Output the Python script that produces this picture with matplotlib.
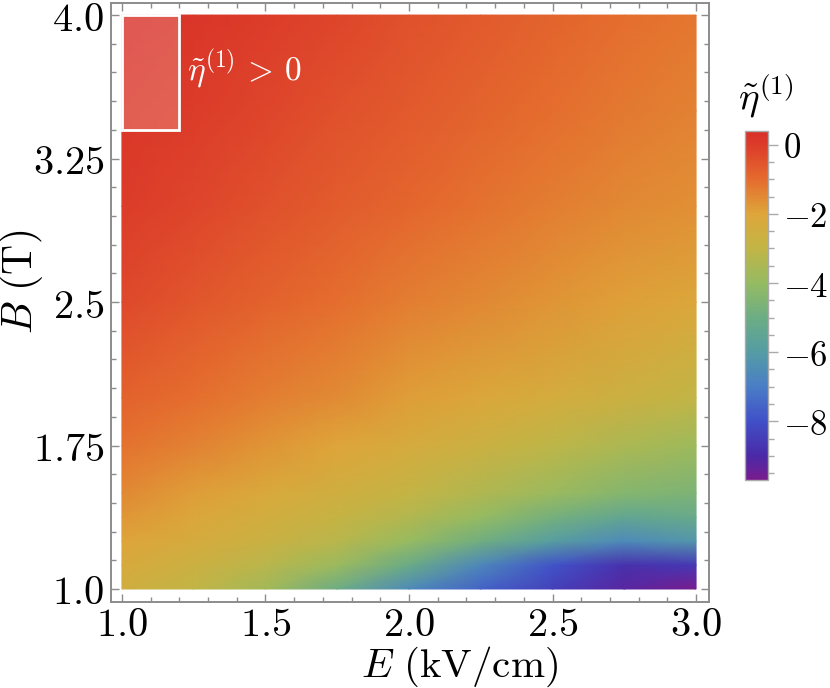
import numpy as np
import matplotlib
matplotlib.use("Agg")
import matplotlib.pyplot as plt
from matplotlib.colors import LinearSegmentedColormap
from matplotlib.ticker import FixedLocator, MultipleLocator
from matplotlib.patches import Rectangle

plt.rcParams['mathtext.fontset'] = 'cm'

# ---- data ----
E_vals = [1.0, 1.25, 1.5, 1.75, 2.0, 2.25, 2.5, 2.75, 3.0]
B_vals = [1.0, 1.125, 1.25, 1.375, 1.5, 1.75, 2.0, 2.5, 3.0, 3.5, 4.0]
eta_B100 = [-2.5, -3.0, -3.7, -5.0, -6.6, -7.6, -8.4, -9.2, -9.7]
eta_B112 = [-2.25, -2.65, -3.2, -3.9, -5.1, -6.7, -7.9, -8.8, -8.6]
eta_B125 = [-2.0, -2.35, -2.75, -3.2, -3.95, -4.9, -5.9, -6.6, -6.2]
eta_B137 = [-1.75, -2.1, -2.45, -2.85, -3.35, -4.0, -4.8, -5.4, -5.2]
eta_B150 = [-1.5, -1.85, -2.2, -2.55, -2.95, -3.4, -3.9, -4.4, -4.6]
eta_B175 = [-1.1, -1.4, -1.7, -2.0, -2.35, -2.7, -3.1, -3.5, -3.8]
eta_B200 = [-0.8, -1.05, -1.3, -1.55, -1.85, -2.1, -2.4, -2.7, -3.0]
eta_B250 = [-0.3, -0.55, -0.8, -1.05, -1.3, -1.5, -1.7, -1.9, -2.1]
eta_B300 = [0.0, -0.2, -0.45, -0.7, -0.9, -1.1, -1.3, -1.5, -1.65]
eta_B350 = [0.2, 0.0, -0.2, -0.45, -0.65, -0.85, -1.05, -1.25, -1.4]
eta_B400 = [0.4, 0.2, 0.0, -0.2, -0.45, -0.65, -0.85, -1.05, -1.2]
eta_min, eta_max = -9.7, 0.4

x_ticks = [1.0, 1.5, 2.0, 2.5, 3.0]
y_ticks = [1.0, 1.75, 2.5, 3.25, 4.0]
y_ticklabels = ['1.0', '1.75', '2.5', '3.25', '4.0']
cb_ticks = [-8, -6, -4, -2, 0]

# positive region box
box_E = (1.0, 1.2)
box_B = (3.4, 4.0)

# ---- colormap (Mathematica-like Rainbow) ----
stops_val = [-9.7, -9.0, -8.0, -7.0, -6.0, -5.0, -4.0, -3.0, -2.0, -1.0, 0.0, 0.4]
stops_col = ['#781c8e', '#4a2aa8', '#4050c8', '#4a7ec6', '#559ca4', '#6cad84',
             '#95bb62', '#c2b546', '#dea63a', '#e56c2e', '#dc3c2a', '#d93029']
pos = [(v - eta_min) / (eta_max - eta_min) for v in stops_val]
cmap = LinearSegmentedColormap.from_list('rainbow_m', list(zip(pos, stops_col)))

Z = np.array([eta_B100, eta_B112, eta_B125, eta_B137, eta_B150, eta_B175,
              eta_B200, eta_B250, eta_B300, eta_B350, eta_B400])
EE, BB = np.meshgrid(E_vals, B_vals)

fig = plt.figure(figsize=(8.3, 6.88), dpi=100)
ax = fig.add_axes([111/830, 1-602/688, 598/830, 599/688])
m = ax.pcolormesh(EE, BB, Z, shading='gouraud', cmap=cmap,
                  vmin=eta_min, vmax=eta_max, rasterized=True)
ax.set_xlim(0.962, 3.045)
ax.set_ylim(0.932, 4.063)

ax.add_patch(Rectangle((box_E[0], box_B[0]), box_E[1]-box_E[0], box_B[1]-box_B[0],
                       facecolor=(1, 1, 1, 0.2), edgecolor='white', lw=2, zorder=3))
ax.text(1.225, 3.72, r'$\tilde{\eta}^{(1)}\,>\,0$', color='white', fontsize=24,
        va='center', ha='left', zorder=4)

gray = '#8c8c8c'
for s in ax.spines.values():
    s.set_color(gray)
    s.set_linewidth(1.4)
ax.xaxis.set_major_locator(FixedLocator(x_ticks))
ax.xaxis.set_minor_locator(MultipleLocator(0.1))
ax.yaxis.set_major_locator(FixedLocator(y_ticks))
ax.yaxis.set_minor_locator(FixedLocator(np.arange(1.0, 4.01, 0.15)))
ax.set_xticklabels([r'$%.1f$' % v for v in x_ticks])
ax.set_yticklabels([r'$%s$' % s for s in y_ticklabels])
ax.tick_params(which='both', direction='in', top=True, right=True, color=gray,
               width=1.0, labelsize=29, labelcolor='black')
ax.tick_params(which='major', length=6)
ax.tick_params(axis='x', which='major', pad=2)
ax.tick_params(axis='y', which='major', pad=5)
ax.tick_params(which='minor', length=3.5)
ax.set_xlabel(r'$E\ (\mathrm{kV/cm})$', fontsize=29.5)
ax.set_ylabel(r'$B\ (\mathrm{T})$', fontsize=30)
ax.xaxis.set_label_coords(0.583, -0.071)
ax.yaxis.set_label_coords(-0.149, 0.535)
ax.yaxis.label.set_va('center')
ax.xaxis.label.set_va('top')

cax = fig.add_axes([745/830, 1-480/688, 23/830, 349/688])
cb = fig.colorbar(m, cax=cax)
cb.set_ticks(cb_ticks)
cb.ax.set_yticklabels([r'$%d$' % t for t in cb_ticks])
cb.ax.yaxis.set_minor_locator(MultipleLocator(0.5))
cb.outline.set_edgecolor('#aaaaaa')
cb.outline.set_linewidth(1.0)
cb.ax.tick_params(which='both', direction='out', color='#aaaaaa', labelsize=25, width=1.0)
cb.ax.tick_params(which='major', length=7, pad=4)
cb.ax.tick_params(which='minor', length=4)
fig.text(766/830, 1-96/688, r'$\tilde{\eta}^{(1)}$', fontsize=28, ha='center', va='center')

fig.savefig('out.png', dpi=100)
